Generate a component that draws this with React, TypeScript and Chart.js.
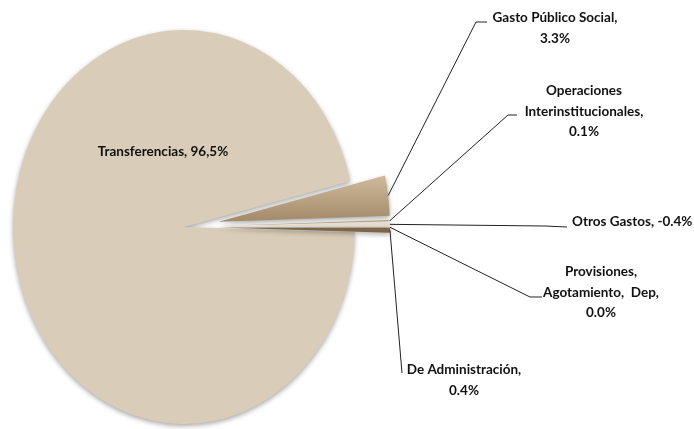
import React, { useEffect, useRef } from "react";
import { Chart, registerables } from "chart.js";
Chart.register(...registerables);

// ---- data ----
const categories = [
  "Transferencias",
  "Gasto Público Social",
  "Operaciones Interinstitucionales",
  "Otros Gastos",
  "Provisiones, Agotamiento, Dep",
  "De Administración",
];
const shares = [96.5, 3.3, 0.1, -0.4, 0.0, 0.4];
const labelTexts = [
  ["Transferencias, 96,5%"],
  ["Gasto Público Social,", "3.3%"],
  ["Operaciones", "Interinstitucionales,", "0.1%"],
  ["Otros Gastos, -0.4%"],
  ["Provisiones,", "Agotamiento,  Dep,", "0.0%"],
  ["De Administración,", "0.4%"],
];
const exploded = [false, true, true, true, true, true];

// ---- layout / style ----
const W = 694;
const H = 429;
const CX = 184;
const CY = 227;
const RADIUS = 171;
const SY = 197 / 171;
const EXPLODE = 35;
const LINE_H = 20.5;
const FONT = "bold 13.5px Lato, 'DejaVu Sans', sans-serif";

type Lay = {
  elbow?: [number, number];
  tick?: [number, number];
  tx: number;
  ty: number;
  align: CanvasTextAlign;
};
const labelLayout: Lay[] = [
  { tx: 163, ty: 152, align: "center" },
  { elbow: [476, 22], tick: [487, 22], tx: 555, ty: 18, align: "center" },
  { elbow: [508, 115], tick: [517, 115], tx: 584, ty: 91, align: "center" },
  { elbow: [545, 226], tick: [567, 227], tx: 572, ty: 222, align: "left" },
  { elbow: [530, 297], tick: [542, 297], tx: 601, ty: 272, align: "center" },
  { elbow: [402, 373], tx: 464, ty: 370, align: "center" },
];

const sliceColor = (c: any) => {
  const i = c.dataIndex;
  if (i === 0) return "#d9ccb8";
  if (i === 1) {
    const g = c.chart.ctx.createLinearGradient(0, CY - 44, 0, CY);
    g.addColorStop(0, "#cdb99b");
    g.addColorStop(0.55, "#b49d7c");
    g.addColorStop(1, "#9c8363");
    return g;
  }
  if (i === 2) return "#b8a283";
  if (i === 3) return "#e6ddcf";
  if (i === 4) return "#a08868";
  return "#7e6548";
};

const piePlugin = {
  id: "piePlugin",
  afterDatasetUpdate(chart: any) {
    const meta = chart.getDatasetMeta(0);
    meta.data.forEach((arc: any, i: number) => {
      if (!exploded[i]) return;
      const mid = (arc.startAngle + arc.endAngle) / 2;
      arc.x += Math.cos(mid) * EXPLODE;
      arc.y += Math.sin(mid) * EXPLODE;
    });
  },
  beforeDatasetsDraw(chart: any) {
    const ctx = chart.ctx;
    ctx.save();
    ctx.translate(CX, CY);
    ctx.scale(1, SY);
    ctx.translate(-CX, -CY);
    ctx.shadowColor = "rgba(0,0,0,0.35)";
    ctx.shadowBlur = 5;
    ctx.shadowOffsetX = 0;
    ctx.shadowOffsetY = 2;
  },
  afterDatasetsDraw(chart: any) {
    const ctx = chart.ctx;
    ctx.restore();
    const meta = chart.getDatasetMeta(0);
    ctx.save();
    ctx.font = FONT;
    ctx.fillStyle = "#111";
    ctx.strokeStyle = "#222";
    ctx.lineWidth = 1;
    ctx.textBaseline = "middle";
    meta.data.forEach((arc: any, i: number) => {
      const lay = labelLayout[i];
      if (lay.elbow) {
        const mid = (arc.startAngle + arc.endAngle) / 2;
        const px = arc.x + Math.cos(mid) * arc.outerRadius;
        const pyU = arc.y + Math.sin(mid) * arc.outerRadius;
        const py = CY + (pyU - CY) * SY;
        ctx.beginPath();
        ctx.moveTo(px, py);
        ctx.lineTo(lay.elbow[0], lay.elbow[1]);
        if (lay.tick) ctx.lineTo(lay.tick[0], lay.tick[1]);
        ctx.stroke();
      }
      ctx.textAlign = lay.align;
      labelTexts[i].forEach((t, k) => {
        ctx.fillText(t, lay.tx, lay.ty + k * LINE_H);
      });
    });
    ctx.restore();
  },
};

export default function App() {
  const ref = useRef<HTMLCanvasElement>(null);
  useEffect(() => {
    if (!ref.current) return;
    const chart = new Chart(ref.current, {
      type: "pie",
      data: {
        labels: categories,
        datasets: [
          {
            data: shares,
            backgroundColor: sliceColor as any,
            borderWidth: 0,
            clip: false as any,
          } as any,
        ],
      },
      options: {
        responsive: false,
        animation: false,
        events: [],
        rotation: 91.5,
        radius: RADIUS,
        layout: { padding: { left: 0, right: W - 2 * CX, top: 2 * CY - H, bottom: 0 } },
        plugins: { legend: { display: false }, tooltip: { enabled: false }, title: { display: false } },
      } as any,
      plugins: [piePlugin as any],
    });
    return () => chart.destroy();
  }, []);
  return (
    <div style={{ position: "fixed", left: 0, top: 0, width: W, height: H, background: "#fff" }}>
      <canvas ref={ref} width={W} height={H} style={{ display: "block" }} />
    </div>
  );
}
